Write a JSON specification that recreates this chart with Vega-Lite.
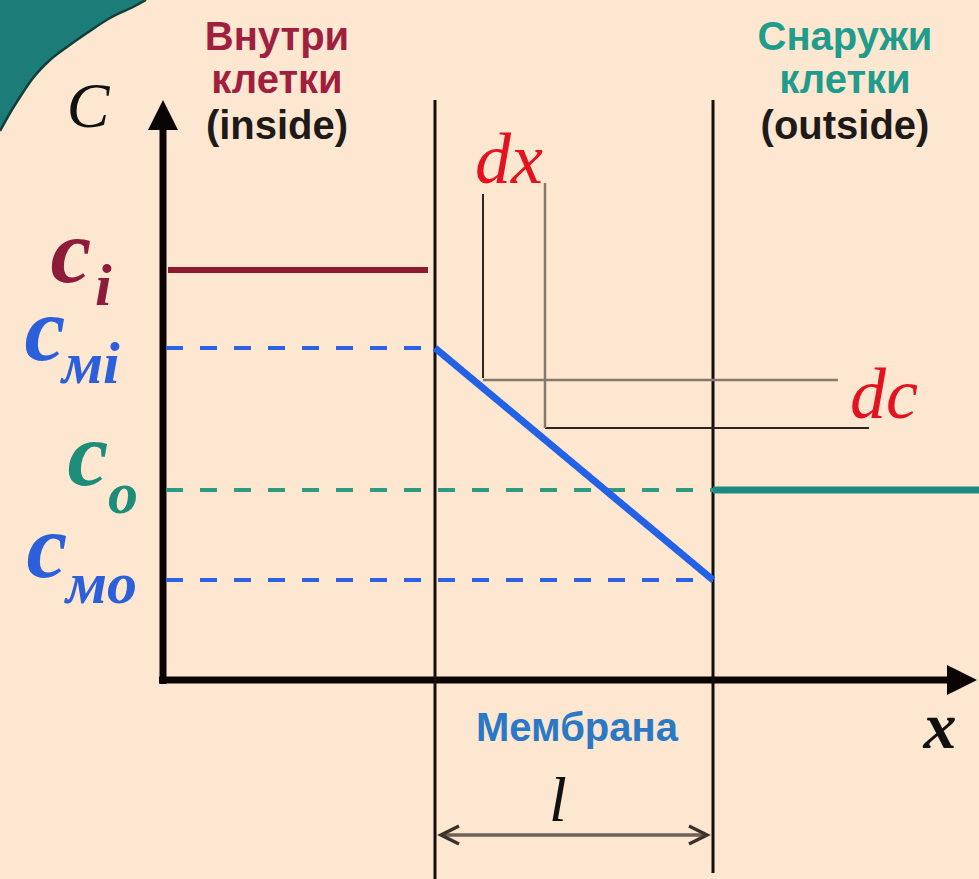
{
  "$schema": "https://vega.github.io/schema/vega-lite/v6.json",
  "width": 979,
  "height": 879,
  "autosize": "none",
  "padding": 0,
  "background": "#FDE7D1",
  "config": {"view": {"stroke": null}},
  "datasets": {
    "corner": [
      {"x": 0, "edge": 131, "top": 0},
      {"x": 10, "edge": 113, "top": 0},
      {"x": 20, "edge": 97, "top": 0},
      {"x": 33, "edge": 78, "top": 0},
      {"x": 50, "edge": 60, "top": 0},
      {"x": 67, "edge": 47, "top": 0},
      {"x": 87, "edge": 33, "top": 0},
      {"x": 110, "edge": 18, "top": 0},
      {"x": 133, "edge": 7, "top": 0},
      {"x": 146, "edge": 0, "top": 0}
    ],
    "segments": [
      {"part": "axis", "x": 163, "x2": 163, "y": 684, "y2": 126},
      {"part": "axis", "x": 159, "x2": 950, "y": 680, "y2": 680},
      {"part": "membrane", "x": 435, "x2": 435, "y": 100, "y2": 879},
      {"part": "membrane", "x": 713, "x2": 713, "y": 100, "y2": 873},
      {"part": "inside", "x": 168, "x2": 428, "y": 270, "y2": 270},
      {"part": "membrane level", "x": 166, "x2": 435, "y": 348, "y2": 348},
      {"part": "membrane level", "x": 166, "x2": 713, "y": 580, "y2": 580},
      {"part": "outside level", "x": 166, "x2": 713, "y": 490, "y2": 490},
      {"part": "outside", "x": 713, "x2": 979, "y": 490, "y2": 490},
      {"part": "gradient", "x": 435, "x2": 713, "y": 348, "y2": 580},
      {"part": "guide dark", "x": 483, "x2": 483, "y": 194, "y2": 378},
      {"part": "guide dark", "x": 545, "x2": 869, "y": 428, "y2": 428},
      {"part": "guide grey", "x": 545, "x2": 545, "y": 183, "y2": 428},
      {"part": "guide grey", "x": 483, "x2": 838, "y": 380, "y2": 380},
      {"part": "thickness", "x": 441, "x2": 707, "y": 835, "y2": 835}
    ],
    "heads": [
      {"text": "Внутри", "x": 277, "y": 50, "tone": "inside"},
      {"text": "клетки", "x": 277, "y": 93, "tone": "inside"},
      {"text": "(inside)", "x": 277, "y": 139, "tone": "note"},
      {"text": "Снаружи", "x": 845, "y": 50, "tone": "outside"},
      {"text": "клетки", "x": 845, "y": 93, "tone": "outside"},
      {"text": "(outside)", "x": 845, "y": 139, "tone": "note"},
      {"text": "Мембрана", "x": 577, "y": 741, "tone": "membrane"}
    ],
    "cletters": [
      {"text": "c", "x": 71, "y": 282, "region": "inside"},
      {"text": "c", "x": 45, "y": 360, "region": "membrane"},
      {"text": "c", "x": 88, "y": 485, "region": "outside"},
      {"text": "c", "x": 47, "y": 577, "region": "membrane"}
    ],
    "subs": [
      {"text": "i", "x": 95, "y": 305, "region": "inside"},
      {"text": "мi", "x": 62, "y": 383, "region": "membrane"},
      {"text": "o", "x": 108, "y": 513, "region": "outside"},
      {"text": "мо", "x": 66, "y": 603, "region": "membrane"}
    ],
    "diffs": [
      {"text": "dx", "x": 509, "y": 183},
      {"text": "dc", "x": 884, "y": 418}
    ],
    "axisnames": [
      {"text": "C", "x": 88, "y": 127},
      {"text": "l", "x": 558, "y": 821}
    ],
    "xname": [{"text": "x", "x": 940, "y": 748}],
    "uparrow": [{"x": 163, "y": 115}],
    "rightarrow": [{"x": 962, "y": 680}],
    "leftchev": [{"x": 450, "y": 835}],
    "rightchev": [{"x": 698, "y": 835}]
  },
  "resolve": {"scale": {"color": "independent", "size": "independent", "strokeDash": "independent"}},
  "layer": [
    {
      "data": {"name": "corner"},
      "mark": {"type": "area", "color": "#1C7D78", "interpolate": "monotone", "opacity": 1},
      "encoding": {
        "x": {"field": "x", "type": "quantitative", "scale": {"domain": [0, 979], "nice": false}, "axis": null},
        "y": {"field": "edge", "type": "quantitative", "scale": {"domain": [0, 879], "nice": false, "reverse": true}, "axis": null},
        "y2": {"field": "top"}
      }
    },
    {
      "data": {"name": "corner"},
      "mark": {"type": "line", "color": "#123F3B", "strokeWidth": 2.5, "interpolate": "monotone"},
      "encoding": {
        "x": {"field": "x", "type": "quantitative", "scale": {"domain": [0, 979], "nice": false}, "axis": null},
        "y": {"field": "edge", "type": "quantitative", "scale": {"domain": [0, 879], "nice": false, "reverse": true}, "axis": null}
      }
    },
    {
      "data": {"name": "segments"},
      "mark": {"type": "rule", "strokeCap": "butt"},
      "encoding": {
        "x": {"field": "x", "type": "quantitative", "scale": {"domain": [0, 979], "nice": false}, "axis": null},
        "x2": {"field": "x2"},
        "y": {"field": "y", "type": "quantitative", "scale": {"domain": [0, 879], "nice": false, "reverse": true}, "axis": null},
        "y2": {"field": "y2"},
        "color": {
          "field": "part", "type": "nominal", "legend": null,
          "scale": {
            "domain": ["axis", "membrane", "inside", "membrane level", "outside level", "outside", "gradient", "guide dark", "guide grey", "thickness"],
            "range": ["#0A0505", "#140F0C", "#8C1A30", "#2F62E0", "#2E9A82", "#1A8A7E", "#2362E6", "#2B2520", "#86786A", "#6E6357"]
          }
        },
        "size": {
          "field": "part", "type": "nominal", "legend": null,
          "scale": {
            "type": "ordinal",
            "domain": ["axis", "membrane", "inside", "membrane level", "outside level", "outside", "gradient", "guide dark", "guide grey", "thickness"],
            "range": [7, 3, 6, 4, 4, 7, 7, 2, 2.5, 3.5]
          }
        },
        "strokeDash": {
          "field": "part", "type": "nominal", "legend": null,
          "scale": {
            "domain": ["axis", "membrane", "inside", "membrane level", "outside level", "outside", "gradient", "guide dark", "guide grey", "thickness"],
            "range": [[1, 0], [1, 0], [1, 0], [17, 17], [17, 17], [1, 0], [1, 0], [1, 0], [1, 0], [1, 0]]
          }
        }
      }
    },
    {
      "data": {"name": "uparrow"},
      "mark": {"type": "point", "shape": "M0,-1L1,1L-1,1Z", "size": 900, "filled": true, "color": "#0A0505", "opacity": 1},
      "encoding": {
        "x": {"field": "x", "type": "quantitative", "scale": {"domain": [0, 979], "nice": false}, "axis": null},
        "y": {"field": "y", "type": "quantitative", "scale": {"domain": [0, 879], "nice": false, "reverse": true}, "axis": null}
      }
    },
    {
      "data": {"name": "rightarrow"},
      "mark": {"type": "point", "shape": "M1,0L-1,-1L-1,1Z", "size": 900, "filled": true, "color": "#0A0505", "opacity": 1},
      "encoding": {
        "x": {"field": "x", "type": "quantitative", "scale": {"domain": [0, 979], "nice": false}, "axis": null},
        "y": {"field": "y", "type": "quantitative", "scale": {"domain": [0, 879], "nice": false, "reverse": true}, "axis": null}
      }
    },
    {
      "data": {"name": "leftchev"},
      "mark": {"type": "point", "shape": "M1,-1L-1,0L1,1", "size": 324, "filled": false, "color": "#3A322B", "strokeWidth": 3.5, "opacity": 1},
      "encoding": {
        "x": {"field": "x", "type": "quantitative", "scale": {"domain": [0, 979], "nice": false}, "axis": null},
        "y": {"field": "y", "type": "quantitative", "scale": {"domain": [0, 879], "nice": false, "reverse": true}, "axis": null}
      }
    },
    {
      "data": {"name": "rightchev"},
      "mark": {"type": "point", "shape": "M-1,-1L1,0L-1,1", "size": 324, "filled": false, "color": "#3A322B", "strokeWidth": 3.5, "opacity": 1},
      "encoding": {
        "x": {"field": "x", "type": "quantitative", "scale": {"domain": [0, 979], "nice": false}, "axis": null},
        "y": {"field": "y", "type": "quantitative", "scale": {"domain": [0, 879], "nice": false, "reverse": true}, "axis": null}
      }
    },
    {
      "data": {"name": "heads"},
      "mark": {"type": "text", "font": "Liberation Sans", "fontWeight": "bold", "fontSize": 40, "align": "center", "baseline": "alphabetic"},
      "encoding": {
        "x": {"field": "x", "type": "quantitative", "scale": {"domain": [0, 979], "nice": false}, "axis": null},
        "y": {"field": "y", "type": "quantitative", "scale": {"domain": [0, 879], "nice": false, "reverse": true}, "axis": null},
        "text": {"field": "text"},
        "color": {
          "field": "tone", "type": "nominal", "legend": null,
          "scale": {"domain": ["inside", "note", "outside", "membrane"], "range": ["#A01E3E", "#1E1A18", "#1F9C8C", "#2A78C6"]}
        }
      }
    },
    {
      "data": {"name": "cletters"},
      "mark": {"type": "text", "font": "Liberation Serif", "fontWeight": "bold", "fontStyle": "italic", "fontSize": 92, "align": "center", "baseline": "alphabetic"},
      "encoding": {
        "x": {"field": "x", "type": "quantitative", "scale": {"domain": [0, 979], "nice": false}, "axis": null},
        "y": {"field": "y", "type": "quantitative", "scale": {"domain": [0, 879], "nice": false, "reverse": true}, "axis": null},
        "text": {"field": "text"},
        "color": {
          "field": "region", "type": "nominal", "legend": null,
          "scale": {"domain": ["inside", "membrane", "outside"], "range": ["#8E1B3A", "#2C5FDA", "#1D8C78"]}
        }
      }
    },
    {
      "data": {"name": "subs"},
      "mark": {"type": "text", "font": "Liberation Serif", "fontWeight": "bold", "fontStyle": "italic", "fontSize": 60, "align": "left", "baseline": "alphabetic"},
      "encoding": {
        "x": {"field": "x", "type": "quantitative", "scale": {"domain": [0, 979], "nice": false}, "axis": null},
        "y": {"field": "y", "type": "quantitative", "scale": {"domain": [0, 879], "nice": false, "reverse": true}, "axis": null},
        "text": {"field": "text"},
        "color": {
          "field": "region", "type": "nominal", "legend": null,
          "scale": {"domain": ["inside", "membrane", "outside"], "range": ["#8E1B3A", "#2C5FDA", "#1D8C78"]}
        }
      }
    },
    {
      "data": {"name": "diffs"},
      "mark": {"type": "text", "font": "Liberation Serif", "fontStyle": "italic", "fontSize": 72, "align": "center", "baseline": "alphabetic", "color": "#E3121E"},
      "encoding": {
        "x": {"field": "x", "type": "quantitative", "scale": {"domain": [0, 979], "nice": false}, "axis": null},
        "y": {"field": "y", "type": "quantitative", "scale": {"domain": [0, 879], "nice": false, "reverse": true}, "axis": null},
        "text": {"field": "text"}
      }
    },
    {
      "data": {"name": "axisnames"},
      "mark": {"type": "text", "font": "Liberation Serif", "fontStyle": "italic", "fontSize": 64, "align": "center", "baseline": "alphabetic", "color": "#111111"},
      "encoding": {
        "x": {"field": "x", "type": "quantitative", "scale": {"domain": [0, 979], "nice": false}, "axis": null},
        "y": {"field": "y", "type": "quantitative", "scale": {"domain": [0, 879], "nice": false, "reverse": true}, "axis": null},
        "text": {"field": "text"}
      }
    },
    {
      "data": {"name": "xname"},
      "mark": {"type": "text", "font": "Liberation Serif", "fontWeight": "bold", "fontStyle": "italic", "fontSize": 66, "align": "center", "baseline": "alphabetic", "color": "#111111"},
      "encoding": {
        "x": {"field": "x", "type": "quantitative", "scale": {"domain": [0, 979], "nice": false}, "axis": null},
        "y": {"field": "y", "type": "quantitative", "scale": {"domain": [0, 879], "nice": false, "reverse": true}, "axis": null},
        "text": {"field": "text"}
      }
    }
  ]
}
